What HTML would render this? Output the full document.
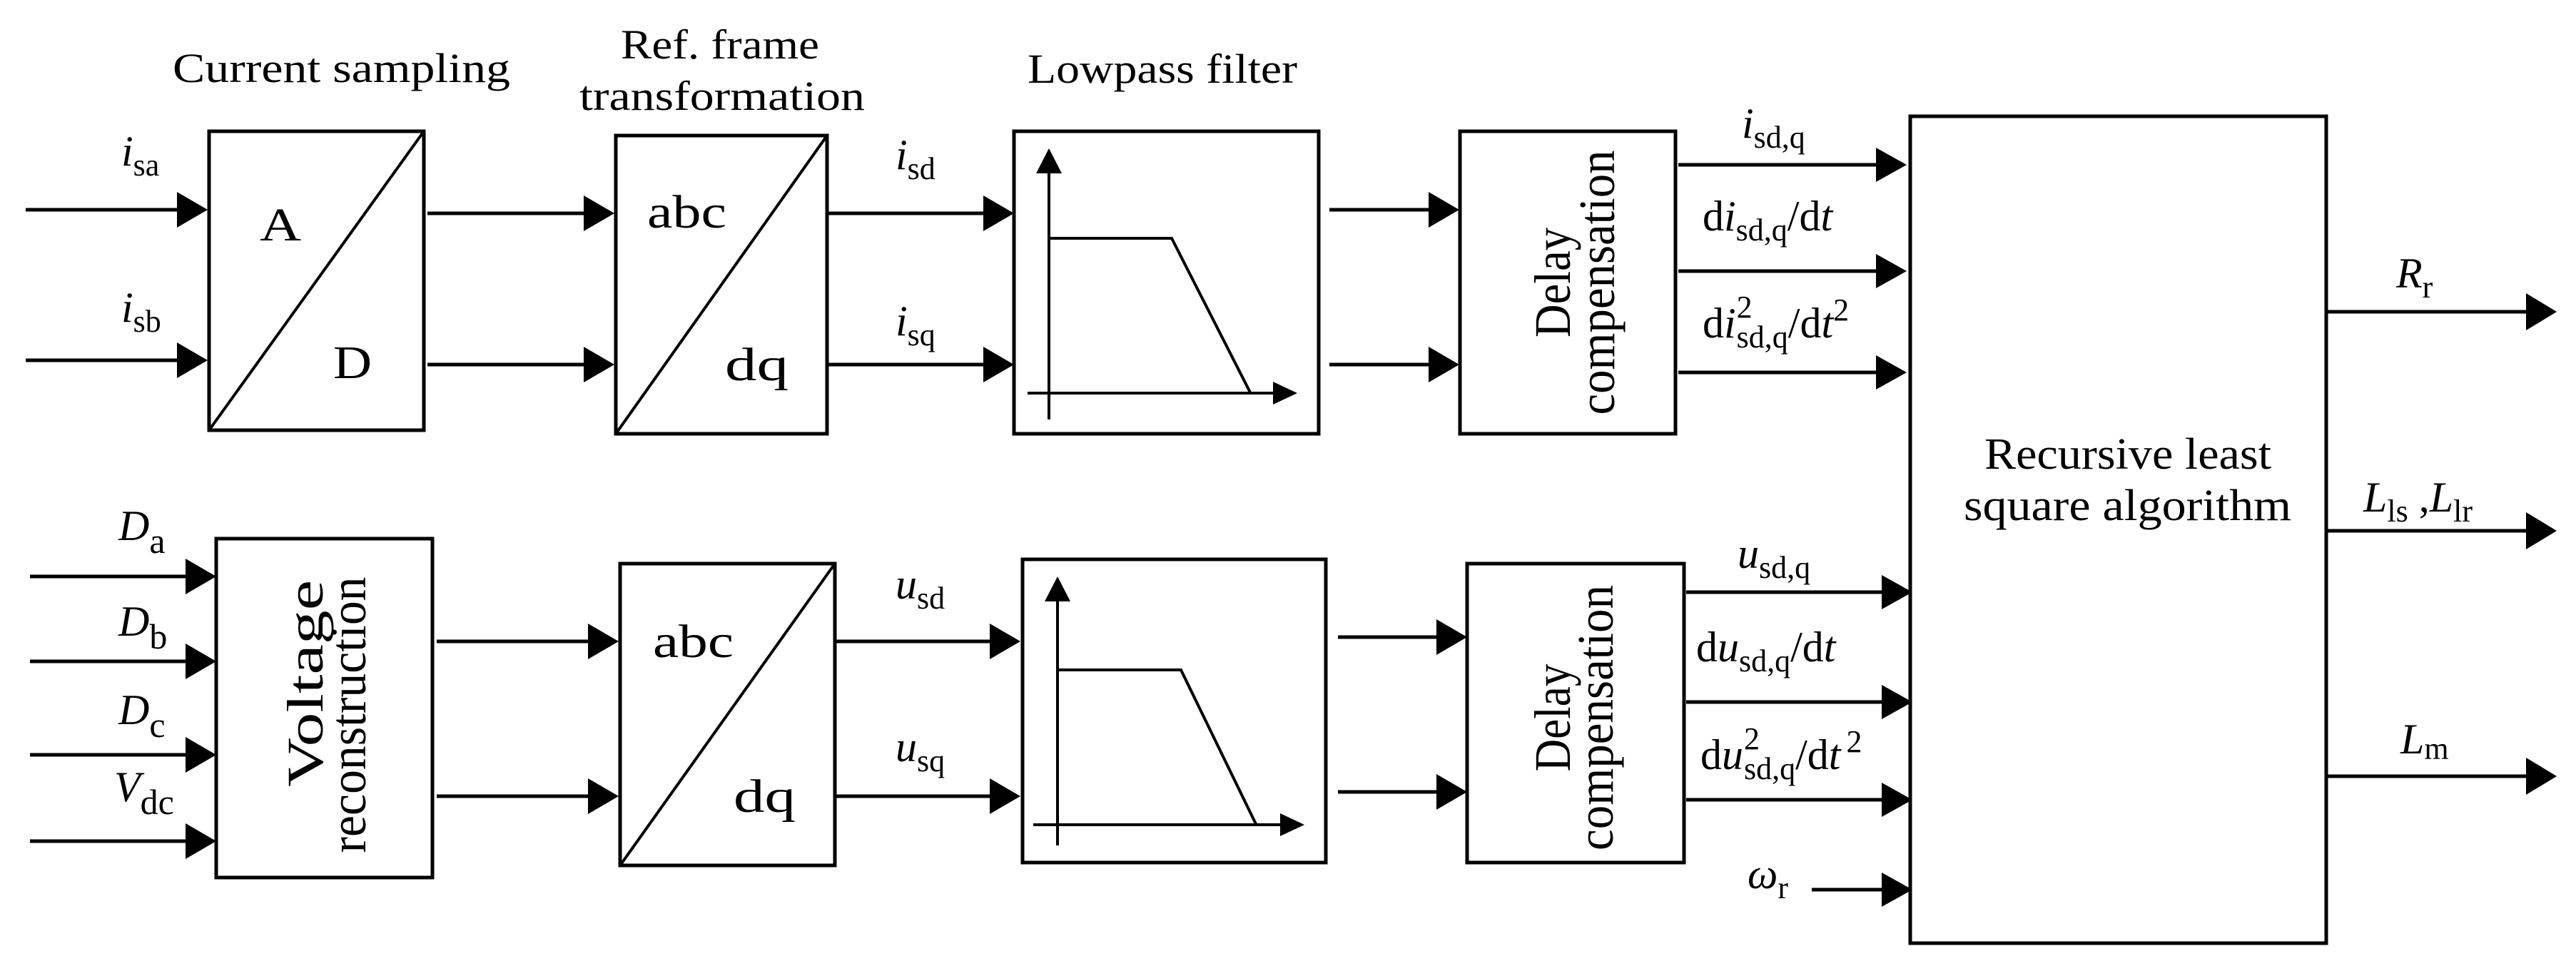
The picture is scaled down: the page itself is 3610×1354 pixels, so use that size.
<!DOCTYPE html>
<html><head><meta charset="utf-8"><style>
html,body{margin:0;padding:0;background:#fff}
svg{display:block}
text{font-family:"Liberation Serif",serif;fill:#000}
.it{font-style:italic}
</style></head><body>
<svg width="3610" height="1354" viewBox="0 0 3610 1354" xmlns="http://www.w3.org/2000/svg">
<g fill="none" stroke="#000" stroke-width="5">
<rect x="293" y="184" width="301" height="419"/>
<line x1="293" y1="603" x2="594" y2="184" stroke-width="4"/>
<rect x="863" y="190" width="296" height="418"/>
<line x1="863" y1="608" x2="1159" y2="190" stroke-width="4"/>
<rect x="1421" y="184" width="427" height="424"/>
<rect x="2046" y="184" width="302" height="424"/>
<rect x="2677" y="163" width="583" height="1159"/>
<rect x="303" y="755" width="303" height="475"/>
<rect x="869" y="790" width="301" height="423"/>
<line x1="869" y1="1213" x2="1170" y2="790" stroke-width="4"/>
<rect x="1433" y="784" width="425" height="425"/>
<rect x="2056" y="790" width="304" height="419"/>
</g>
<g fill="none" stroke="#000" stroke-width="4">
<line x1="1470" y1="588" x2="1470" y2="235"/>
<line x1="1440" y1="551" x2="1790" y2="551"/>
<polyline points="1470,334 1642,334 1752,550"/>
<line x1="1482" y1="1185" x2="1482" y2="835"/>
<line x1="1448" y1="1156" x2="1798" y2="1156"/>
<polyline points="1482,939 1655,939 1760,1155"/>
</g>
<g fill="#000">
<polygon points="1470,208 1452,243 1488,243"/>
<polygon points="1818,551 1784,535 1784,567"/>
<polygon points="1482,808 1464,843 1500,843"/>
<polygon points="1828,1156 1794,1140 1794,1172"/>
</g>
<g stroke="#000" stroke-width="5">
<line x1="36" y1="294" x2="255" y2="294"/><line x1="36" y1="505" x2="255" y2="505"/>
<line x1="599" y1="299" x2="825" y2="299"/><line x1="599" y1="511" x2="825" y2="511"/>
<line x1="1161" y1="299" x2="1385" y2="299"/><line x1="1161" y1="511" x2="1385" y2="511"/>
<line x1="1863" y1="294" x2="2009" y2="294"/><line x1="1863" y1="511" x2="2009" y2="511"/>
<line x1="2352" y1="231" x2="2636" y2="231"/><line x1="2352" y1="380" x2="2636" y2="380"/><line x1="2352" y1="522" x2="2636" y2="522"/>
<line x1="3262" y1="437" x2="3547" y2="437"/><line x1="3262" y1="744" x2="3547" y2="744"/><line x1="3262" y1="1088" x2="3547" y2="1088"/>
<line x1="42" y1="808" x2="267" y2="808"/><line x1="42" y1="927" x2="267" y2="927"/><line x1="42" y1="1058" x2="267" y2="1058"/><line x1="42" y1="1179" x2="267" y2="1179"/>
<line x1="612" y1="899" x2="831" y2="899"/><line x1="612" y1="1116" x2="831" y2="1116"/>
<line x1="1172" y1="899" x2="1394" y2="899"/><line x1="1172" y1="1116" x2="1394" y2="1116"/>
<line x1="1875" y1="893" x2="2020" y2="893"/><line x1="1875" y1="1110" x2="2020" y2="1110"/>
<line x1="2363" y1="830" x2="2644" y2="830"/><line x1="2363" y1="984" x2="2644" y2="984"/><line x1="2363" y1="1121" x2="2644" y2="1121"/>
<line x1="2539" y1="1247" x2="2644" y2="1247"/>
</g>
<g fill="#000">
<polygon points="291,294 248,269 248,319"/><polygon points="291,505 248,480 248,530"/>
<polygon points="861,299 818,274 818,324"/><polygon points="861,511 818,486 818,536"/>
<polygon points="1421,299 1378,274 1378,324"/><polygon points="1421,511 1378,486 1378,536"/>
<polygon points="2045,294 2002,269 2002,319"/><polygon points="2045,511 2002,486 2002,536"/>
<polygon points="2672,231 2629,207 2629,255"/><polygon points="2672,380 2629,356 2629,404"/><polygon points="2672,522 2629,498 2629,546"/>
<polygon points="3583,437 3540,411 3540,463"/><polygon points="3583,744 3540,718 3540,770"/><polygon points="3583,1088 3540,1062 3540,1114"/>
<polygon points="303,808 260,783 260,833"/><polygon points="303,927 260,902 260,952"/><polygon points="303,1058 260,1033 260,1083"/><polygon points="303,1179 260,1154 260,1204"/>
<polygon points="867,899 824,874 824,924"/><polygon points="867,1116 824,1091 824,1141"/>
<polygon points="1430,899 1387,874 1387,924"/><polygon points="1430,1116 1387,1091 1387,1141"/>
<polygon points="2056,893 2013,868 2013,918"/><polygon points="2056,1110 2013,1085 2013,1135"/>
<polygon points="2680,830 2637,806 2637,854"/><polygon points="2680,984 2637,960 2637,1008"/><polygon points="2680,1121 2637,1097 2637,1145"/>
<polygon points="2680,1247 2637,1223 2637,1271"/>
</g>
<g font-size="58">
<text x="242" y="115" textLength="473" lengthAdjust="spacingAndGlyphs">Current sampling</text>
<text x="870" y="82" textLength="278" lengthAdjust="spacingAndGlyphs">Ref. frame</text>
<text x="812" y="154" textLength="400" lengthAdjust="spacingAndGlyphs">transformation</text>
<text x="1440" y="116" textLength="378" lengthAdjust="spacingAndGlyphs">Lowpass filter</text>
<text x="2781" y="657" textLength="402" lengthAdjust="spacingAndGlyphs" font-size="62">Recursive least</text>
<text x="2752" y="729" textLength="459" lengthAdjust="spacingAndGlyphs" font-size="62">square algorithm</text>
</g>
<g font-size="66">
<text x="364" y="337" textLength="58" lengthAdjust="spacingAndGlyphs">A</text>
<text x="467" y="530" textLength="54" lengthAdjust="spacingAndGlyphs">D</text>
<text x="907" y="319" textLength="111" lengthAdjust="spacingAndGlyphs">abc</text>
<text x="1016" y="533" textLength="89" lengthAdjust="spacingAndGlyphs">dq</text>
<text x="915" y="921" textLength="113" lengthAdjust="spacingAndGlyphs">abc</text>
<text x="1028" y="1138" textLength="87" lengthAdjust="spacingAndGlyphs">dq</text>
</g>
<g font-size="72" text-anchor="middle">
<text transform="translate(2200,396) rotate(-90)" textLength="154" lengthAdjust="spacingAndGlyphs">Delay</text>
<text transform="translate(2262,396) rotate(-90)" textLength="371" lengthAdjust="spacingAndGlyphs">compensation</text>
<text transform="translate(2200,1006) rotate(-90)" textLength="151" lengthAdjust="spacingAndGlyphs">Delay</text>
<text transform="translate(2260,1006) rotate(-90)" textLength="372" lengthAdjust="spacingAndGlyphs">compensation</text>
<text transform="translate(452,958) rotate(-90)" textLength="290" lengthAdjust="spacingAndGlyphs">Voltage</text>
<text transform="translate(512,1002) rotate(-90)" textLength="387" lengthAdjust="spacingAndGlyphs">reconstruction</text>
</g>
<g font-size="60">
<text x="170" y="232"><tspan class="it">i</tspan><tspan font-size="44" dy="14">sa</tspan></text>
<text x="170" y="451"><tspan class="it">i</tspan><tspan font-size="44" dy="14">sb</tspan></text>
<text x="1255" y="237"><tspan class="it">i</tspan><tspan font-size="44" dy="14">sd</tspan></text>
<text x="1255" y="470"><tspan class="it">i</tspan><tspan font-size="44" dy="14">sq</tspan></text>
<text x="2441" y="193"><tspan class="it">i</tspan><tspan font-size="44" dy="14">sd,q</tspan></text>
<text x="2386" y="323">d<tspan class="it">i</tspan><tspan font-size="44" dy="14">sd,q</tspan><tspan dy="-14">/d</tspan><tspan class="it">t</tspan></text>
<text x="2386" y="473">d<tspan class="it">i</tspan><tspan font-size="44" dy="-28" dx="1">2</tspan><tspan font-size="44" dy="42" dx="-22">sd,q</tspan><tspan dy="-14">/d</tspan><tspan class="it">t</tspan><tspan font-size="44" dy="-24">2</tspan></text>
<text x="3358" y="403"><tspan class="it">R</tspan><tspan font-size="44" dy="14">r</tspan></text>
<text x="3312" y="717"><tspan class="it">L</tspan><tspan font-size="44" dy="14">ls</tspan><tspan dy="-14"> ,</tspan><tspan class="it">L</tspan><tspan font-size="44" dy="14">lr</tspan></text>
<text x="3364" y="1056"><tspan class="it">L</tspan><tspan font-size="44" dy="8">m</tspan></text>
<text x="166" y="757"><tspan class="it">D</tspan><tspan font-size="50" dy="18">a</tspan></text>
<text x="166" y="891"><tspan class="it">D</tspan><tspan font-size="50" dy="18">b</tspan></text>
<text x="166" y="1015"><tspan class="it">D</tspan><tspan font-size="50" dy="18">c</tspan></text>
<text x="160" y="1123"><tspan class="it">V</tspan><tspan font-size="50" dy="18">dc</tspan></text>
<text x="1255" y="839"><tspan class="it">u</tspan><tspan font-size="44" dy="14">sd</tspan></text>
<text x="1255" y="1067"><tspan class="it">u</tspan><tspan font-size="44" dy="14">sq</tspan></text>
<text x="2435" y="796"><tspan class="it">u</tspan><tspan font-size="44" dy="14">sd,q</tspan></text>
<text x="2377" y="927">d<tspan class="it">u</tspan><tspan font-size="44" dy="14">sd,q</tspan><tspan dy="-14">/d</tspan><tspan class="it">t</tspan></text>
<text x="2383" y="1078">d<tspan class="it">u</tspan><tspan font-size="44" dy="-28" dx="1">2</tspan><tspan font-size="44" dy="42" dx="-22">sd,q</tspan><tspan dy="-14">/d</tspan><tspan class="it">t</tspan><tspan font-size="44" dy="-24" dx="8">2</tspan></text>
<text x="2449" y="1245"><tspan class="it">ω</tspan><tspan font-size="44" dy="14">r</tspan></text>
</g>
</svg>
</body></html>
